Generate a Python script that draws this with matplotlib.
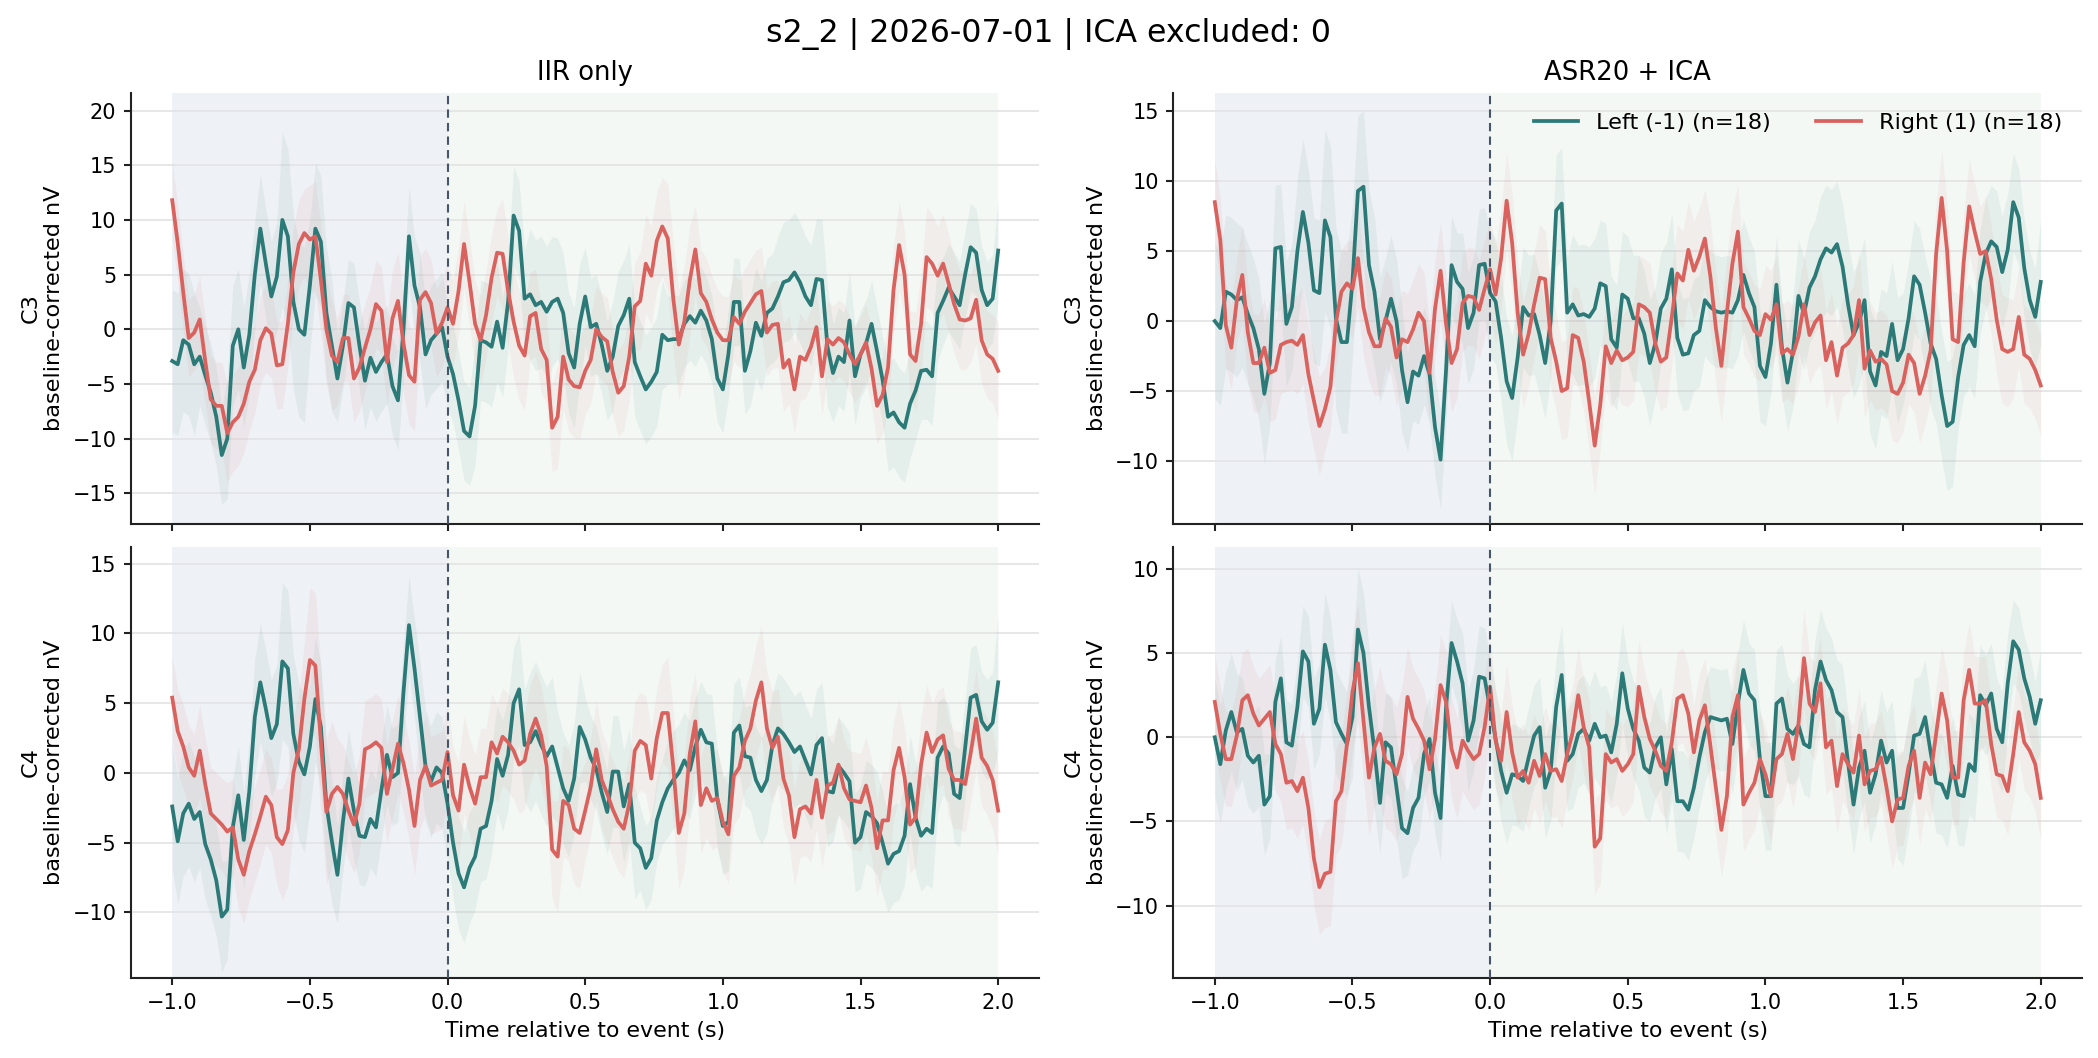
import numpy as np
import matplotlib
matplotlib.use("Agg")
import matplotlib.pyplot as plt

# ---------------- data ----------------
t = np.linspace(-1.0, 2.0, 151)          # sample times (s), 20 ms grid
sem_t_step = 5                           # SEM values were read every 0.1 s

# IIR only, C3
iir_c3_left = [
    -2.9, -3.2, -1.0, -1.4, -3.2, -2.5, -4.2, -5.8, -8, -11.5,
    -10, -1.5, 0, -3.5, -0.5, 5, 9.2, 6, 3, 4.8,
    10, 8.5, 2.5, 0, -0.5, 4, 9.2, 8, 1.5, -1.5,
    -4.5, -1.5, 2.4, 2, -1.5, -4.7, -2.6, -3.9, -3, -2.3,
    -5.2, -6.5, 0, 8.5, 4, 2, -2.3, -1, -0.4, 0.2,
    -2.5, -4.1, -6.5, -9.3, -9.8, -7, -1, -1.2, -1.6, 0.7,
    -1.7, 2.5, 10.4, 9, 2.8, 3.2, 2.2, 2.5, 1.6, 2.5,
    2.8, 1.5, -2.2, -3.5, 0.5, 3, 0.2, 0.5,
    -1.4, -3.8, -2.5, 0.3, 1.3, 2.8, -3, -4.3, -5.5, -4.8,
    -3.9, -0.5, -1, -0.9, -0.9, 0.5, 1.2, 0.6, 1.7, 0.8,
    -0.9, -4.5, -5.5, -2.3, 2.5, 2.5, -3.8, -2, 0.6, -0.6,
    1.5, 1.9, 3, 4.3, 4.5, 5.2, 4.3, 3, 2.2, 4.6,
    4.5, -1.6, -4, -2.5, -3, 0.8, -4.3, -2.3, -1.3, 0.5,
    -2, -4.6, -8, -7.6, -8.5, -9, -6.8, -5.6, -3.8, -3.7,
    -4.3, 1.5, 2.6, 3.8, 3, 2.2, 5, 7.5, 7, 3.6,
    2.2, 2.8, 7.2]
iir_c3_right = [
    11.8, 7.9, 3.4, -0.8, -0.3, 0.9, -2.9, -6.4, -7, -7,
    -9.5, -8.5, -8, -6.8, -4.8, -3.7, -1, 0.1, -0.4, -3.3,
    -3.2, 0.5, 5.2, 7.8, 8.8, 8.2, 8.5, 4.5, 0, -2.4,
    -3, -0.8, -0.8, -4.5, -3.5, -1.7, 0, 2.3, 1.7, -3,
    1, 2.6, -1.3, -4.2, -4.8, 2.7, 3.4, 2.4, -0.4, 0.6,
    2, 0.5, 3.5, 7.8, 4.3, 0.5, -1, 1.3, 4.7, 7,
    6.9, 3.5, 0.7, -1.5, -2.4, 1.2, 1.5, -1.8, -2.8, -9,
    -8, -2.5, -4.6, -5.2, -5.3, -3.8, -2.8, 0,
    -0.7, -1.1, -3.9, -5.8, -5.2, -2.5, 2.1, 2.6, 6, 4.9,
    8.1, 9.4, 8.3, 2.8, -1.4, 0.7, 4.5, 7.3, 3.3, 2.5,
    0.9, -0.3, -1, -1, 1.1, 0.5, 1.6, 2.4, 3.2, 3.5,
    -0.3, 0.4, 0.5, -3.5, -2.8, -5.5, -2.5, -2.8, -1.6, 0.2,
    -4.3, -0.9, -1.4, -0.8, -1.2, -2.3, -3.2, -2.3, -1.2, -3.6,
    -7, -6, -3.5, 3.6, 7.7, 5, -2.3, -2.9, 0.5, 6.6,
    6, 4.9, 6, 4.2, 2.3, 0.9, 0.8, 1, 2.7, -1,
    -2.3, -2.7, -3.8]

# ASR20 + ICA, C3
asr_c3_left = [
    0, -0.5, 2.1, 1.9, 1.5, 1.7, 0.5, -0.5, -2, -5.2,
    -3, 5.2, 5.3, -0.2, 1, 5, 7.8, 5.6, 2.2, 2,
    7.2, 6, 0.2, -1.5, -1.5, 2.8, 9.3, 9.6, 4, 2.1,
    -1.3, 0, 1.6, 0, -3.5, -5.8, -3.6, -3.9, -2.5, -3.8,
    -7.6, -9.9, -3.5, 4, 2.8, 2.3, -0.5, 0.6, 4, 4.1,
    2, 1.4, -1.2, -4.3, -5.5, -2.6, 1, 0.4, 0.5, -1,
    -3, 0, 7.9, 8.4, 0.6, 1.2, 0.4, 0.5, 0.3, 0.9,
    2.7, 2.5, -1.3, -1.9, 1.9, 1.6, 0.2, 0.2,
    -0.9, -3, -1.6, 0.9, 1.6, 3.7, -1.2, -2.4, -2.3, -1,
    -0.7, 1.5, 1, 0.7, 0.6, 0.7, 0.6, 1.5, 3.3, 2,
    1, -3.2, -4, -1.6, 2.6, -1.9, -4.4, -2.2, 1.8, 0.5,
    2.4, 3.2, 4.4, 5.2, 4.9, 5.5, 3.9, 1.2, -1, -0.1,
    1.5, -3.6, -4.6, -2.2, -2.5, -0.2, -2.8, -2, 0.2, 3.2,
    2.6, 0.6, -1.6, -2.7, -5.3, -7.5, -7.2, -4, -1.7, -1,
    -1.8, 2.8, 4.8, 5.7, 5.3, 3.5, 5.1, 8.5, 7.4, 3.8,
    1.5, 0.3, 2.8]
asr_c3_right = [
    8.5, 5.8, -0.3, -1.9, 1.5, 3.3, -0.8, -3, -3, -1.9,
    -3.7, -3.5, -1.7, -1.5, -1.4, -1.7, -1, -3.8, -5.7, -7.5,
    -6.3, -4.7, -0.1, 2.1, 2.7, 2.3, 4.5, 1, -0.8, -1.8,
    -1.8, 0.2, -0.4, -2.6, -1.3, -1.5, -0.6, 0.6, 0, -3.7,
    0.9, 3.6, -0.2, -3, -2, 1.3, 1.8, 1.7, 0.8, 2.3,
    3.7, 1.9, 4.5, 8.6, 5.6, 0.6, -2.4, -0.9, 1.2, 3.1,
    3, -1.2, -2.9, -5, -4.8, -1, -1.2, -2.9, -5.8, -8.9,
    -6, -1.8, -3, -2.1, -2.8, -2.6, -2.2, 1.2,
    1.0, 0.6, -1.6, -2.9, -2.6, 0.3, 3.4, 2.9, 5.1, 3.6,
    4.6, 5.9, 3.2, -0.5, -3.2, 0.6, 4.1, 6.4, 1, 0.2,
    -0.7, -1, 0.5, 0.1, 1.2, -2.3, -2, -2.4, -1.1, 1.2,
    -1, -0.1, 0.4, -2.8, -1.5, -3.9, -1.9, -1.6, -1, 1.5,
    -3.4, -2.1, -2.9, -2.7, -3.1, -5, -5.2, -4.4, -2.4, -3,
    -5.2, -3.9, -2.1, 4.8, 8.8, 5, -1.3, -1.5, 4.2, 8.2,
    6.4, 4.8, 5, 3, 0.1, -2, -2.2, -2, 0.3, -2.4,
    -2.7, -3.5, -4.6]

# IIR only, C4
iir_c4_left = [
    -2.4, -4.9, -2.9, -2.2, -3.3, -2.8, -5.1, -6.2, -7.7, -10.3,
    -9.8, -3.9, -1.6, -4.8, -1.3, 4, 6.5, 4.6, 2.5, 3.5,
    8, 7.5, 2.8, 0.8, -0.1, 1.9, 5.3, 3.3, -2.3, -4.9,
    -7.3, -3.5, -0.4, -2.7, -4.5, -4.6, -3.3, -3.9, -1.2, 1.3,
    -0.3, 0, 5.8, 10.6, 7.5, 4, 0.5, -0.6, 0.4, 0,
    -2.2, -5, -7.2, -8.2, -6.8, -6, -4, -3.8, -2, 1,
    -0.2, 1.3, 5, 6, 2, 2.2, 3, 2, 1.2, 1.9,
    0.4, -1.1, -2, -0.4, 3.3, 2.4, 1.1, 0.3,
    -1.4, -2.8, 0.1, 0.1, -2.4, -0.8, -5, -5.4, -6.8, -6.1,
    -3.4, -2.1, -1.1, -0.5, 0, 0.9, 0.2, 1.9, 3.1, 2.2,
    2.1, -1.9, -3.8, -3.5, 2.9, 3.4, 1.2, 1.1, -0.5, -1.3,
    -0.5, 2, 3.2, 2.8, 2.2, 1.5, 1.9, 0.9, -0.1, 2,
    2.5, -1.3, -1.4, 0.5, 0, -0.6, -5, -4.6, -2.8, -3.1,
    -3.6, -5, -6.5, -5.8, -5.6, -4.5, -0.8, -3.2, -4.5, -4,
    -4.3, 1.1, 1.9, 1.4, -1.5, -1.8, 1.8, 5.4, 5.6, 3.7,
    3.1, 3.6, 6.5]
iir_c4_right = [
    5.4, 3, 1.9, 0.4, -0.2, 1.6, -0.8, -2.9, -3.3, -3.7,
    -4.2, -3.9, -6.2, -7.3, -5.6, -4.4, -3.1, -1.7, -2.3, -4.6,
    -5.1, -4.1, 0, 1.7, 5.3, 8.1, 7.7, 2.2, -2.8, -1.5,
    -1, -1.5, -2.7, -3.7, -2.2, 1.7, 1.9, 2.2, 1.8, -1.5,
    0.3, 2.1, 0.7, -1.2, -3.8, -0.5, 0.5, -0.9, -0.7, -0.5,
    1.5, -1.6, -2.7, 0.6, -1, -2.2, -0.3, -0.3, 2.2, 1.4,
    2.6, 2.2, 1.6, 0.6, 0.9, 2.8, 3.9, 2.7, 0.5, -5.5,
    -6, -2, -2.3, -4, -4.3, -2.7, -1, 1.7,
    -0.5, -1.5, -2.6, -3.5, -4, -2.2, 1.6, 2.3, 2, -0.4,
    2.5, 4.3, 4.3, 0.4, -4.3, -2.9, 1.4, 3.7, -2.3, -1.1,
    -2, -1.8, -3.5, -4.4, -0.2, 0.4, 2.3, 3.2, 5.2, 6.5,
    3.2, 1.8, 2.6, -0.4, -1.6, -4.6, -2.6, -2.4, -2.9, -0.5,
    -3.2, -0.9, -0.7, 0.6, -1.1, -1.9, -2, -2.1, -0.9, -2.5,
    -5.4, -3.4, -3.4, 0.2, 1.8, -0.3, -3.7, -3.2, 0.6, 2.9,
    1.5, 2.4, 2.7, 0.3, -0.5, -0.5, -0.8, 1.4, 3.9, 1.1,
    0.5, -0.5, -2.7]

# ASR20 + ICA, C4
asr_c4_left = [
    0, -1.6, 0.4, 1.5, 0.3, 0.5, -1.1, -1.5, -1.1, -4.0,
    -3.5, 2.1, 3.5, -0.3, -0.5, 1.8, 5.1, 4.5, 0.8, 1.7,
    5.5, 4, 0.9, 0.2, -0.4, 1.2, 6.4, 5, 1.8, -0.8,
    -3.9, -0.3, -0.6, -3, -5.4, -5.7, -4.2, -3.6, -1, -0.1,
    -3.3, -4.8, 1.8, 5.6, 4.5, 3.2, -0.2, 1, 3.6, 3.5,
    1.7, -0.1, -2, -3.3, -2.2, -2.3, -2.6, -1.2, 0.1, 0.6,
    -3, -2, 1.8, 3.7, -1.4, -1, 0.2, 0.5, -0.2, 0.8,
    0, 0.1, -0.9, 0.8, 3.8, 1.7, 0.5, -0.2,
    -1.8, -2.1, -0.6, 0, -2.8, -0.7, -3.8, -3.8, -4.3, -3,
    -1.2, 0.3, 1.2, 1.1, 1, 1.1, -0.4, 2, 4, 2.6,
    2.2, -1.3, -3.5, -3.5, 2, 2.3, 0.5, 0.2, 0.7, -0.4,
    -0.6, 2.8, 4.5, 3.4, 2.8, 1.5, 1.2, -1.5, -4, -1.8,
    -0.8, -3.3, -2.2, -0.2, -1.5, -0.8, -4.2, -4.2, -2.2, 0.1,
    0.2, 1.2, -0.9, -2.7, -2.8, -3.6, -1.7, -3.4, -3.5, -1.6,
    -2, 2.5, 1.9, 2.6, 0.5, -0.3, 3.2, 5.7, 5.2, 3.5,
    2.4, 0.8, 2.2]
asr_c4_right = [
    2.1, 0.2, -1.3, -1.3, 0.1, 2.2, 2.5, 1.4, 0.7, 1.1,
    1.5, -0.4, -1, -2.7, -2.6, -3.2, -2.4, -4.2, -7.2, -8.9,
    -8.1, -8, -3.8, -3.2, -0.4, 2.7, 4.4, 1, -2.4, -0.6,
    0.2, -1.4, -1.6, -2.2, -1, 2.4, 1.1, 0.5, -0.2, -1.9,
    -0.1, 3.1, 2.1, -0.7, -1.8, -0.2, -0.8, -1.3, -1, 0.6,
    3, -0.2, -1.4, 1.5, -0.9, -2.4, -2, -2.7, -1.4, -2.3,
    -1, -2, -1.9, -2.6, -1, 0.3, 2.5, 0.6, -0.6, -6.5,
    -6, -1, -1.5, -1.3, -2, -1.6, -1, 3,
    1.2, -0.1, -0.8, -1.7, -2.0, -0.3, 2.3, 2.5, 1.4, -0.9,
    1, 1.9, -0.5, -3, -5.5, -3.5, 1.2, 2.5, -4, -3.3,
    -2.7, -1.3, -2.2, -3.5, -1.3, -1, 0.2, -1.3, 0.8, 4.7,
    2, 1.5, 3.2, -0.6, -0.2, -2.9, -1, -1.6, -2.1, 0.1,
    -2.8, -2, -1.9, -1.2, -3, -5, -3.7, -3.6, -1.7, -0.8,
    -3.6, -1.5, -2.2, 0.2, 2.6, 1, -2.4, -2.4, 2.2, 4,
    2, 2, 2.2, -0.4, -2.2, -2.3, -3.2, -1, 1.5, -0.3,
    -0.8, -1.6, -3.6]

# standard errors, one value per 0.1 s
iir_c3_left_sem = [6.5, 4.5, 5.5, 5, 8, 6, 4, 4.5, 4.5, 5, 4.5, 5.5, 4.5, 6, 5.5, 4.5,
                   5, 5, 4, 4, 4, 5, 5.5, 5.5, 4.5, 4, 5, 4.5, 4, 4, 4.7]
iir_c3_right_sem = [3.5, 4, 4.5, 4, 4, 5, 4, 4, 4.5, 4, 4, 4, 5, 4, 4.7, 4,
                    4, 4.5, 5, 4, 4, 4, 4, 3.5, 3.5, 3.5, 4, 4.5, 4.5, 4, 4.5]
asr_c3_left_sem = [5.5, 5, 4.5, 5.2, 6.5, 5.4, 4.5, 3.5, 3.5, 4, 4.5, 4.3, 4, 5, 4.5, 4.5,
                   4, 4, 4, 4, 3.5, 4, 4.5, 4.5, 4.5, 4, 4.6, 3.7, 4, 3.5, 4.5]
asr_c3_right_sem = [3, 3.5, 3.5, 3.5, 3, 3.5, 3.5, 3.5, 3.5, 3.5, 3.5, 3.8, 3.5, 3.5, 3.2, 3.5,
                    3.5, 3.5, 4, 3.3, 3.5, 3.5, 3.5, 3.5, 3.5, 3.5, 3.5, 3.4, 3.9, 3.5, 3.6]
iir_c4_left_sem = [4.5, 4, 3.5, 4.2, 5.6, 4.5, 3.5, 3.5, 3.5, 4, 4, 3.8, 4, 5, 4, 3,
                   4, 3, 3.5, 3.5, 3.5, 3.8, 4, 4, 3.5, 3.7, 3.5, 4, 3.5, 3.6, 5]
iir_c4_right_sem = [3, 3.3, 3.5, 3.4, 4, 5.2, 3.5, 3.5, 3.5, 3.5, 3.5, 3.5, 3.5, 3.5, 4, 3.5,
                    3.5, 3.5, 4, 3.5, 3.5, 4, 3.5, 3.5, 3.5, 3.5, 3.5, 3.5, 3.5, 3.5, 3.3]
asr_c4_left_sem = [3.5, 3, 2.5, 2.7, 3.1, 3.6, 3, 2.5, 2.5, 3, 3, 3, 3, 3.2, 3, 2.9,
                   3, 3, 3, 3, 3.2, 3, 3.1, 3, 3, 3.4, 3, 3, 3, 2.5, 3]
asr_c4_right_sem = [2.8, 2.8, 2.8, 2.8, 3.2, 3.5, 4, 3, 3, 3, 2.8, 2.8, 2.8, 2.8, 2.7, 2.8,
                    2.8, 2.8, 2.8, 2.8, 2.8, 2.9, 2.8, 2.8, 2.8, 2.8, 2.8, 2.8, 2.6, 2.8, 2.5]

col_titles = ["IIR only", "ASR20 + ICA"]
channels = ["C3", "C4"]
legend_labels = ["Left (-1) (n=18)", "Right (1) (n=18)"]
suptitle = "s2_2 | 2026-07-01 | ICA excluded: 0"
xlabel = "Time relative to event (s)"
ylabel_tmpl = "{}\nbaseline-corrected nV"
baseline_window = (-1.0, 0.0)
post_window = (0.0, 2.0)

panels = {
    (0, 0): (iir_c3_left, iir_c3_right, iir_c3_left_sem, iir_c3_right_sem, (-17.8, 21.6)),
    (0, 1): (asr_c3_left, asr_c3_right, asr_c3_left_sem, asr_c3_right_sem, (-14.5, 16.3)),
    (1, 0): (iir_c4_left, iir_c4_right, iir_c4_left_sem, iir_c4_right_sem, (-14.7, 16.2)),
    (1, 1): (asr_c4_left, asr_c4_right, asr_c4_left_sem, asr_c4_right_sem, (-14.3, 11.3)),
}

# ---------------- style ----------------
TEAL = "#2b7a78"
CORAL = "#d9625e"
plt.rcParams["font.family"] = ["DejaVu Sans"]

fig, axes = plt.subplots(2, 2, figsize=(2098 / 150, 1058 / 150), dpi=150, sharex=True)
fig.subplots_adjust(left=0.0624, right=0.9924, top=0.9121, bottom=0.0756,
                    wspace=0.1475, hspace=0.0534)


def series_time(vals):
    return t if len(vals) == len(t) else np.linspace(-1.0, 2.0, len(vals))


def sem_on_grid(sem, n):
    s = np.repeat(np.asarray(sem, float), sem_t_step)
    if len(s) < n:
        s = np.concatenate([s, np.full(n - len(s), s[-1])])
    return s[:n]


for (r, c), (lv, rv, ls, rs, ylim) in panels.items():
    ax = axes[r, c]
    ax.axvspan(*baseline_window, color="#5f7da5", alpha=0.10, lw=0, zorder=0.2)
    ax.axvspan(*post_window, color="#7fb58f", alpha=0.085, lw=0, zorder=0.2)
    for vals, sem, colr, lab in ((lv, ls, TEAL, legend_labels[0]),
                                 (rv, rs, CORAL, legend_labels[1])):
        v = np.asarray(vals, float)
        tt = series_time(v)
        s = sem_on_grid(sem, len(v))
        ax.fill_between(tt, v - s, v + s, color=colr, alpha=0.07, lw=0, zorder=1)
        ax.plot(tt, v, color=colr, lw=1.8, label=lab, zorder=3)
    ax.axvline(0, color="#475569", lw=1.0, ls=(0, (4, 2.5)), zorder=4)
    ax.set_ylim(*ylim)
    ax.grid(axis="y", color="#e3e3e3", lw=0.8, zorder=0.5)
    ax.set_axisbelow(True)
    for sp in ("top", "right"):
        ax.spines[sp].set_visible(False)
    for sp in ("left", "bottom"):
        ax.spines[sp].set_linewidth(1.0)
        ax.spines[sp].set_color("#222222")
    ax.tick_params(labelsize=10, length=3.5, width=1.0, color="#222222")
    ax.set_ylabel(ylabel_tmpl.format(channels[r]), fontsize=10.75)
    if r == 0:
        ax.set_title(col_titles[c], fontsize=12.4)
    else:
        ax.set_xlabel(xlabel, fontsize=10.6)

axes[1, 0].set_xticks([-1.0, -0.5, 0.0, 0.5, 1.0, 1.5, 2.0])
axes[0, 1].legend(loc="upper right", ncol=2, frameon=False, fontsize=10.75)
fig.suptitle(suptitle, fontsize=15.2, y=0.983)

fig.savefig("out.png", dpi=150)
